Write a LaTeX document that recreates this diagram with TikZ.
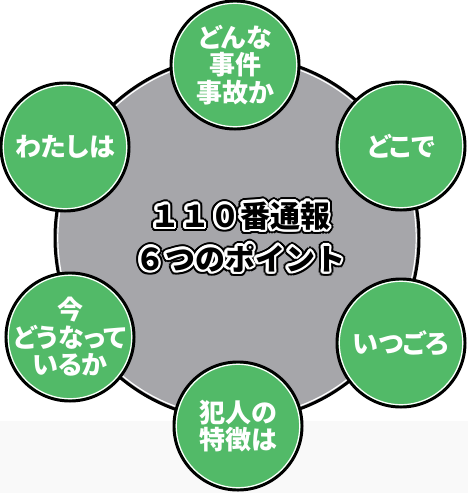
\documentclass[tikz,border=0pt]{standalone}
\usepackage{fontspec}
\newfontfamily\jp[RawFeature=+palt]{Noto Sans CJK JP}
\newfontfamily\jptitle{Noto Sans CJK JP}
\usetikzlibrary{calc}
\definecolor{spotgreen}{RGB}{82,186,104}
\definecolor{hubgray}{RGB}{166,166,170}
\definecolor{floorgray}{RGB}{249,249,249}

\begin{document}
\begin{tikzpicture}[x=1pt,y=-1pt,
    spot/.style={circle,fill=spotgreen,draw=black,line width=3pt,
        minimum size=128pt,inner sep=-16pt,align=center,text=white,
        font=\jp\bfseries\fontsize{26}{27.5}\selectfont},
    headline/.style={align=center,inner sep=0pt,
        font=\jptitle\bfseries\fontsize{30}{43}\selectfont}]
        % Background
        \fill [white] (0,0) rectangle (468,493);
        \fill [floorgray] (0,421) rectangle (468,493);
        \useasboundingbox (0,0) rectangle (468,493);
        % Big circle
        \node (hub) at (237,238) [circle,minimum size=364pt,inner sep=0pt,
            fill=hubgray,draw=black,line width=3pt] {};
        \draw [white,line width=1.2pt] (hub.center) circle (179.2);
        % Title with outline
        \foreach \r/\c in {4.6/black,3.4/black,2.4/white,1.2/white}
            \foreach \a in {0,20,...,340}
                \node (halo) [headline,text=\c,shift={(\a:\r)}] at (240,237)
                {１１０番通報\\６つのポイント};
        \node (headline) [headline] at (240,237) {１１０番通報\\６つのポイント};
        % Six points
        \node (what) [spot] at (235,65) {どんな\\事件\\事故か};
        \node (where) [spot] at (401,146) {どこで};
        \node (when) [spot] at (401,343) {いつごろ};
        \node (culprit) [spot] at (238,426) {犯人の\\特徴は};
        \node (now) [spot] at (70,337) {今\\どうなって\\いるか};
        \node (who) [spot] at (65,147) {わたしは};
        \foreach \n in {what,where,when,culprit,now,who}
            \draw [white,line width=1.2pt] (\n.center) circle (61.7);
\end{tikzpicture}
\end{document}
